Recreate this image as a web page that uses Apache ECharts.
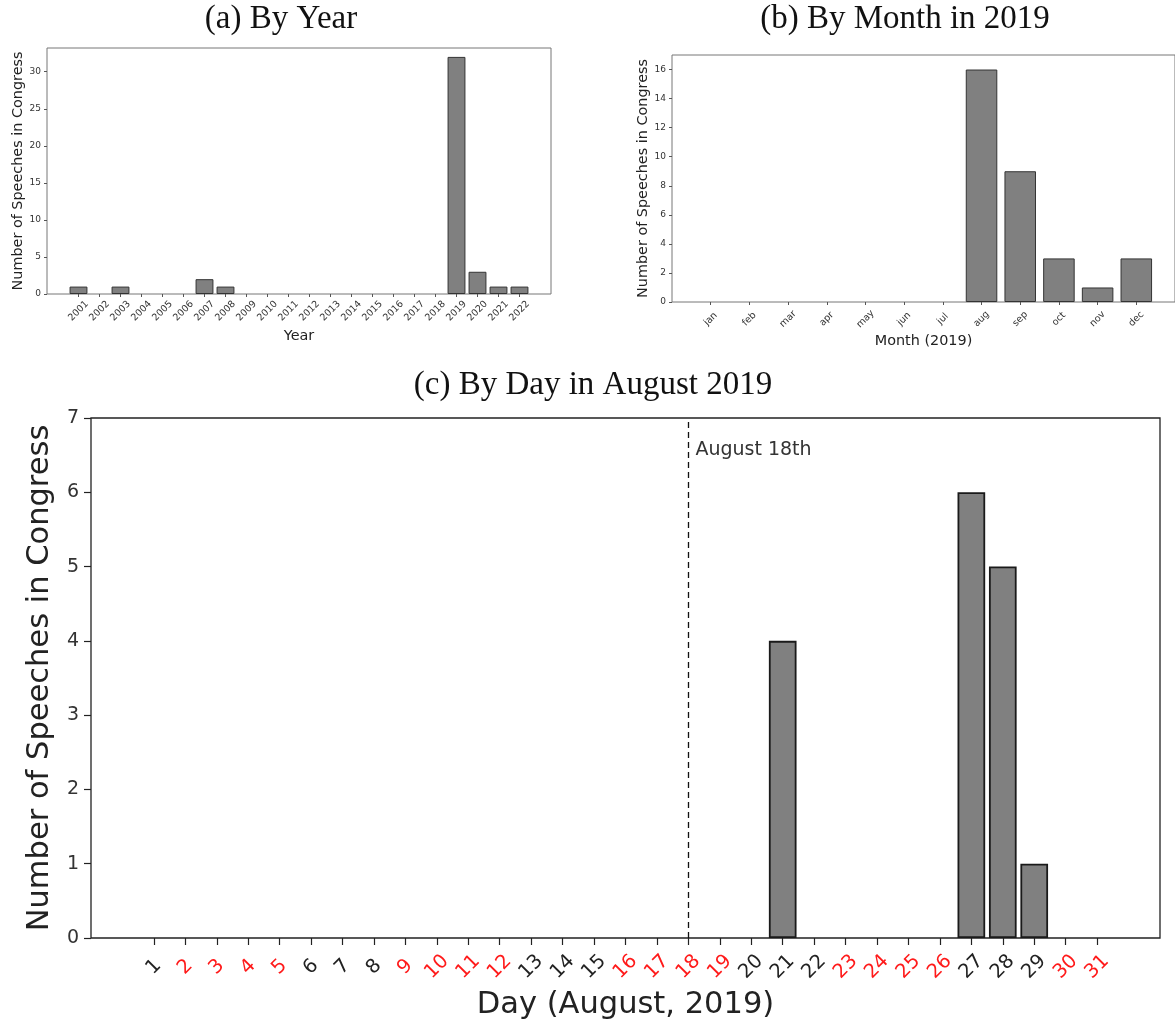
<!DOCTYPE html>
<html>
<head>
<meta charset="utf-8">
<script src="https://cdn.jsdelivr.net/npm/echarts@6/dist/echarts.min.js"></script>
<style>
  html, body { margin: 0; padding: 0; background: #fff; }
  #main { width: 1175px; height: 1027px; }
</style>
</head>
<body>
<div id="main"></div>
<script>
// ---- data ----
const years = [2001, 2002, 2003, 2004, 2005, 2006, 2007, 2008, 2009, 2010, 2011,
               2012, 2013, 2014, 2015, 2016, 2017, 2018, 2019, 2020, 2021, 2022];
const yearCounts = [1, 0, 1, 0, 0, 0, 2, 1, 0, 0, 0,
                    0, 0, 0, 0, 0, 0, 0, 32, 3, 1, 1];

const months = ['jan', 'feb', 'mar', 'apr', 'may', 'jun', 'jul', 'aug', 'sep', 'oct', 'nov', 'dec'];
const monthIndex = [0, 1, 2, 3, 4, 5, 6, 7, 8, 9, 10, 11];
const monthCounts = [0, 0, 0, 0, 0, 0, 0, 16, 9, 3, 1, 3];

const days = [1, 2, 3, 4, 5, 6, 7, 8, 9, 10, 11, 12, 13, 14, 15, 16,
              17, 18, 19, 20, 21, 22, 23, 24, 25, 26, 27, 28, 29, 30, 31];
const dayCounts = [0, 0, 0, 0, 0, 0, 0, 0, 0, 0, 0, 0, 0, 0, 0, 0,
                   0, 0, 0, 0, 4, 0, 0, 0, 0, 0, 6, 5, 1, 0, 0];
// days whose tick label is printed in red
const redDays = [2, 3, 4, 5, 9, 10, 11, 12, 16, 17, 18, 19, 23, 24, 25, 26, 30, 31];

const yearTicks = [0, 5, 10, 15, 20, 25, 30];
const monthTicks = [0, 2, 4, 6, 8, 10, 12, 14, 16];
const markerDay = 18;
const markerText = 'August 18th';

// ---- layout ----
const FONT = 'DejaVu Sans';
const SERIF = 'Liberation Serif';
const gridA = { left: 47, top: 48, width: 504, height: 246 };
const gridB = { left: 672, top: 55, width: 506, height: 247 };
const gridC = { left: 91, top: 418, width: 1069, height: 520 };
const xRangeA = [1999.5, 2023.5];
const xRangeB = [-1, 12];
const xRangeC = [-1, 33];

function slot(grid, range) { return grid.width / (range[1] - range[0]); }

// zero counts give no visible bar
function pairs(xs, ys) { return xs.map((x, i) => [x, ys[i] === 0 ? '-' : ys[i]]); }

const chart = echarts.init(document.getElementById('main'), null, { renderer: 'canvas' });

function gridOpt(g, border, bw) {
  return Object.assign({ show: true, borderColor: border, borderWidth: bw, backgroundColor: 'transparent', containLabel: false }, g);
}

function barSeries(idx, data, width, border, bw) {
  return {
    type: 'bar', xAxisIndex: idx, yAxisIndex: idx, data: data,
    barWidth: width,
    itemStyle: { color: '#808080', borderColor: border, borderWidth: bw },
    emphasis: { disabled: true },
    silent: true, animation: false
  };
}

const hiddenLine = { show: false, onZero: false };
const smallName = { fontSize: 14.4, color: '#222', fontFamily: FONT };

const option = {
  animation: false,
  backgroundColor: '#ffffff',
  textStyle: { fontFamily: FONT },
  grid: [gridOpt(gridA, '#777', 1), gridOpt(gridB, '#777', 1), gridOpt(gridC, '#222', 1.3)],
  xAxis: [
    {
      gridIndex: 0, type: 'value', min: xRangeA[0], max: xRangeA[1],
      axisLine: hiddenLine, splitLine: { show: false },
      axisTick: { show: true, customValues: years, length: 3, lineStyle: { color: '#555' } },
      axisLabel: {
        customValues: years, formatter: v => String(v), rotate: 45, align: 'center', verticalAlign: 'middle',
        margin: 17, fontSize: 9.5, color: '#333', fontFamily: FONT
      },
      name: 'Year', nameLocation: 'middle', nameGap: 35, nameTextStyle: smallName
    },
    {
      gridIndex: 1, type: 'value', min: xRangeB[0], max: xRangeB[1],
      axisLine: hiddenLine, splitLine: { show: false },
      axisTick: { show: true, customValues: monthIndex, length: 3, lineStyle: { color: '#555' } },
      axisLabel: {
        customValues: monthIndex, formatter: v => months[v], rotate: 45, align: 'center', verticalAlign: 'middle',
        margin: 17, fontSize: 9.5, color: '#333', fontFamily: FONT
      },
      name: 'Month (2019)', nameLocation: 'middle', nameGap: 32, nameTextStyle: smallName
    },
    {
      gridIndex: 2, type: 'value', min: xRangeC[0], max: xRangeC[1],
      axisLine: hiddenLine, splitLine: { show: false },
      axisTick: { show: true, customValues: days, length: 7, lineStyle: { color: '#222', width: 1.2 } },
      axisLabel: {
        customValues: days, formatter: v => String(v), rotate: 45, align: 'center', verticalAlign: 'middle',
        margin: 29, fontSize: 19.5, fontFamily: FONT,
        color: (v) => redDays.indexOf(Number(v)) >= 0 ? '#ff1a1a' : '#222'
      },
      name: 'Day (August, 2019)', nameLocation: 'middle', nameGap: 52,
      nameTextStyle: { fontSize: 30.5, color: '#222', fontFamily: FONT }
    }
  ],
  yAxis: [
    {
      gridIndex: 0, type: 'value', min: 0, max: 33.2,
      axisLine: hiddenLine, splitLine: { show: false },
      axisTick: { show: true, customValues: yearTicks, length: 3, lineStyle: { color: '#555' } },
      axisLabel: { customValues: yearTicks, margin: 6, fontSize: 9, color: '#333', fontFamily: FONT },
      name: 'Number of Speeches in Congress', nameLocation: 'middle', nameRotate: 90, nameGap: 22,
      nameTextStyle: smallName
    },
    {
      gridIndex: 1, type: 'value', min: 0, max: 17,
      axisLine: hiddenLine, splitLine: { show: false },
      axisTick: { show: true, customValues: monthTicks, length: 3, lineStyle: { color: '#555' } },
      axisLabel: { customValues: monthTicks, margin: 6, fontSize: 9, color: '#333', fontFamily: FONT },
      name: 'Number of Speeches in Congress', nameLocation: 'middle', nameRotate: 90, nameGap: 20,
      nameTextStyle: smallName
    },
    {
      gridIndex: 2, type: 'value', min: 0, max: 7, interval: 1,
      axisLine: hiddenLine, splitLine: { show: false },
      axisTick: { show: true, length: 7, lineStyle: { color: '#222', width: 1.2 } },
      axisLabel: { margin: 12, fontSize: 19, color: '#333', fontFamily: FONT },
      name: 'Number of Speeches in Congress', nameLocation: 'middle', nameRotate: 90, nameGap: 33,
      nameTextStyle: { fontSize: 30.5, color: '#222', fontFamily: FONT }
    }
  ],
  series: [
    barSeries(0, pairs(years, yearCounts), slot(gridA, xRangeA) * 0.85, '#333', 1),
    barSeries(1, pairs(monthIndex, monthCounts), slot(gridB, xRangeB) * 0.81, '#333', 1),
    Object.assign(
      barSeries(2, pairs(days, dayCounts), slot(gridC, xRangeC) * 0.88, '#1a1a1a', 1.8),
      {
        markLine: {
          silent: true, symbol: ['none', 'none'], animation: false,
          label: { show: false },
          lineStyle: { type: [6, 4], color: '#111', width: 1.3 },
          data: [{ xAxis: markerDay }]
        }
      }
    )
  ]
};

chart.setOption(option);

// panel titles and the marker annotation
const topRight = chart.convertToPixel({ xAxisIndex: 2, yAxisIndex: 2 }, [markerDay, 7]);
const titleStyle = { fontFamily: SERIF, fontSize: 33, fill: '#111', textAlign: 'center', textVerticalAlign: 'middle' };
chart.setOption({
  graphic: [
    { type: 'text', x: 281, y: 19, style: Object.assign({ text: '(a) By Year' }, titleStyle) },
    { type: 'text', x: 905, y: 19, style: Object.assign({ text: '(b) By Month in 2019' }, titleStyle) },
    { type: 'text', x: 593, y: 385, style: Object.assign({ text: '(c) By Day in August 2019' }, titleStyle) },
    {
      type: 'text', x: topRight[0] + 7, y: topRight[1] + 32,
      style: { text: markerText, fontFamily: FONT, fontSize: 19, fill: '#333', textAlign: 'left', textVerticalAlign: 'middle' }
    }
  ]
});
</script>
</body>
</html>
